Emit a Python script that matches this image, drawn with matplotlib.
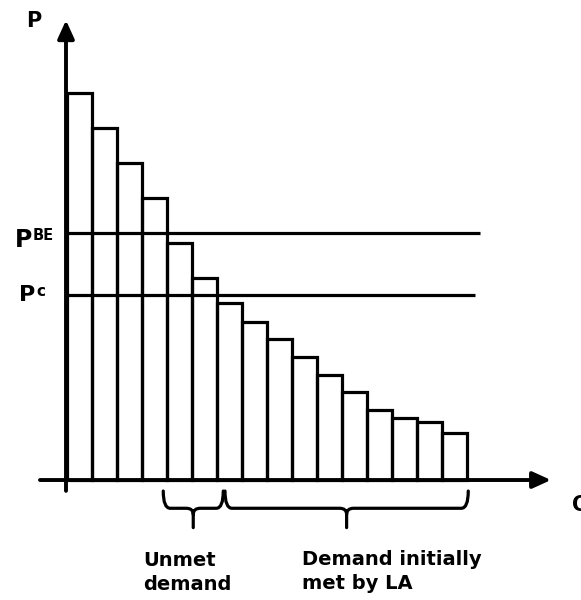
import matplotlib
matplotlib.use("Agg")
import matplotlib.pyplot as plt
from matplotlib.path import Path
from matplotlib.patches import PathPatch

# ---- data ----
prices = [100, 91.0, 81.9, 72.9, 61.2, 52.2, 45.7, 40.8, 36.4, 31.8, 27.1, 22.7, 18.1, 16.0, 15.0, 12.1]
p_be = 63.8
p_c = 47.8
unmet_span = (3.85, 6.25)
met_span = (6.32, 16.05)

plt.rcParams['font.family'] = ['DejaVu Sans']
plt.rcParams['font.weight'] = 'bold'

fig = plt.figure(figsize=(5.81, 6.00), dpi=100)
ax = fig.add_axes([0, 0, 1, 1])
ax.set_xlim(-2.68, 20.56)
ax.set_ylim(-31.0, 124.03)
ax.axis('off')

n = len(prices)
xs = list(range(n))
lw = 2.3
ax.bar(xs, prices, width=1.0, align='edge', fill=False, edgecolor='black', linewidth=lw, zorder=2)

ax.hlines(p_be, 0, 16.5, color='black', linewidth=lw, zorder=2)
ax.hlines(p_c, 0, 16.3, color='black', linewidth=lw, zorder=2)

# axes with arrows
arrow_style = '-|>,head_length=0.55,head_width=0.25'
ax.annotate('', xy=(-0.04, 118.8), xytext=(-0.04, -2.8),
            arrowprops=dict(arrowstyle=arrow_style, lw=2.8, color='black',
                            shrinkA=0, shrinkB=0, mutation_scale=20), zorder=3)
ax.annotate('', xy=(19.36, 0), xytext=(-1.08, 0),
            arrowprops=dict(arrowstyle=arrow_style, lw=2.8, color='black',
                            shrinkA=0, shrinkB=0, mutation_scale=20), zorder=3)

def brace(x0, x1, ytop=-2.85, ymid=-7.3, ytip=-12.3, rx=0.28, ry=1.6):
    xm = (x0 + x1) / 2
    verts = [
        (x0, ytop), (x0, ymid), (x0 + rx, ymid),
        (xm - rx, ymid), (xm, ymid), (xm, ymid - ry),
        (xm, ytip),
        (x1, ytop), (x1, ymid), (x1 - rx, ymid),
        (xm + rx, ymid), (xm, ymid), (xm, ymid - ry),
    ]
    codes = [
        Path.MOVETO, Path.CURVE3, Path.CURVE3,
        Path.LINETO, Path.CURVE3, Path.CURVE3,
        Path.LINETO,
        Path.MOVETO, Path.CURVE3, Path.CURVE3,
        Path.LINETO, Path.CURVE3, Path.CURVE3,
    ]
    ax.add_patch(PathPatch(Path(verts, codes), fill=False, edgecolor='black',
                           linewidth=lw, capstyle='round', joinstyle='round'))

brace(*unmet_span)
brace(*met_span)

fs = 14
ax.text(-1.32, 118.6, 'P', fontsize=15, fontweight='bold', ha='center', va='center')
ax.text(-1.38, 60.2, 'P', fontsize=17, fontweight='bold', ha='right', va='baseline')
ax.text(-1.38, 65.0, 'BE', fontsize=10.5, fontweight='bold', ha='left', va='top')
ax.text(-1.28, 46.3, 'P', fontsize=16, fontweight='bold', ha='right', va='baseline')
ax.text(-1.24, 50.6, 'c', fontsize=11, fontweight='bold', ha='left', va='top')
ax.text(20.2, -6.46, 'Q', fontsize=15, fontweight='bold', ha='left', va='center')

ax.text(3.04, -18.3, 'Unmet\ndemand', fontsize=fs, fontweight='bold', ha='left', va='top', linespacing=1.35)
ax.text(9.38, -18.0, 'Demand initially\nmet by LA', fontsize=fs, fontweight='bold', ha='left', va='top', linespacing=1.35)

fig.savefig('out.png', dpi=100)
